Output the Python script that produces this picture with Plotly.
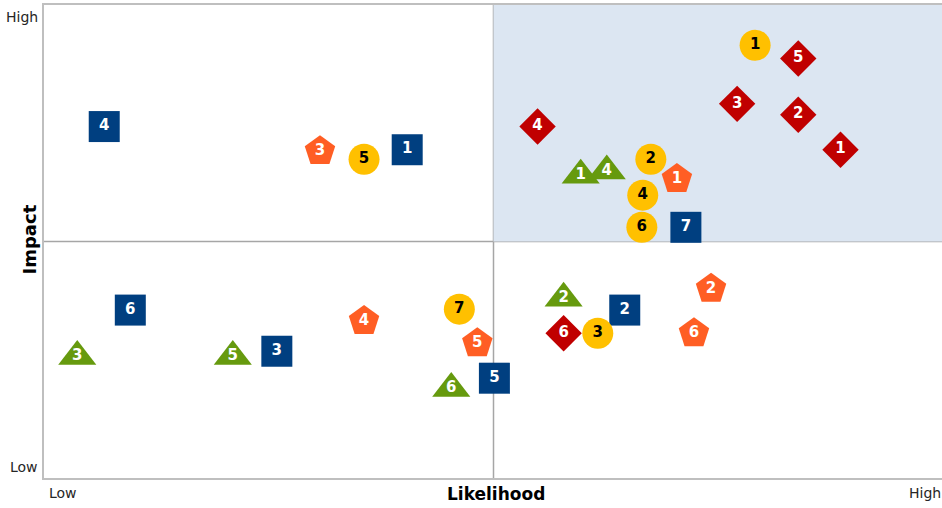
import plotly.graph_objects as go

# --- data (likelihood x, impact y, on a 0-10 scale) ---
square_labels = ["1", "2", "3", "4", "5", "6", "7"]
square_x = [4.04, 6.46, 2.59, 0.67, 5.01, 0.96, 7.14]
square_y = [6.94, 3.55, 2.68, 7.43, 2.11, 3.55, 5.30]

circle_labels = ["1", "2", "3", "4", "5", "6", "7"]
circle_x = [7.91, 6.75, 6.16, 6.66, 3.56, 6.65, 4.62]
circle_y = [9.15, 6.74, 3.06, 5.98, 6.74, 5.30, 3.57]

diamond_labels = ["1", "2", "3", "4", "5", "6"]
diamond_x = [8.86, 8.39, 7.71, 5.49, 8.39, 5.78]
diamond_y = [6.94, 7.68, 7.91, 7.43, 8.87, 3.06]

pentagon_labels = ["1", "2", "3", "4", "5", "6"]
pentagon_x = [7.04, 7.42, 3.07, 3.56, 4.82, 7.23]
pentagon_y = [6.32, 4.00, 6.91, 3.32, 2.85, 3.06]

triangle_labels = ["1", "2", "3", "4", "5", "6"]
triangle_x = [5.97, 5.78, 0.37, 6.26, 2.10, 4.53]
triangle_y = [6.40, 3.80, 2.57, 6.49, 2.57, 1.89]

x_tick_labels = ["Low", "High"]
y_tick_labels = ["Low", "High"]

FONT = "DejaVu Sans"

def series(x, y, labels, symbol, color, size, text_color):
    return go.Scatter(
        x=x, y=y, text=labels, mode="markers+text",
        marker=dict(symbol=symbol, color=color, size=size, line=dict(width=0)),
        textposition="middle center",
        textfont=dict(family=FONT, size=15, color=text_color, weight="bold"),
        hoverinfo="skip", showlegend=False, cliponaxis=False,
    )

fig = go.Figure()
fig.add_trace(series(triangle_x, triangle_y, triangle_labels, "triangle-up", "#669A0E", 33, "white"))
fig.add_trace(series(pentagon_x, pentagon_y, pentagon_labels, "pentagon", "#FF5E24", 32, "white"))
fig.add_trace(series(diamond_x, diamond_y, diamond_labels, "diamond", "#C00000", 28, "white"))
fig.add_trace(series(square_x, square_y, square_labels, "square", "#003F80", 31, "white"))
fig.add_trace(series(circle_x, circle_y, circle_labels, "circle", "#FFC000", 31, "black"))

fig.update_layout(
    width=946, height=508,
    margin=dict(l=44, r=1, t=5, b=30),
    paper_bgcolor="white", plot_bgcolor="white",
    xaxis=dict(range=[0, 10], showgrid=False, zeroline=False, showticklabels=False,
               showline=True, mirror=True, linecolor="#BFBFBF", linewidth=1.5, fixedrange=True),
    yaxis=dict(range=[0, 10], showgrid=False, zeroline=False, showticklabels=False,
               showline=True, mirror=True, linecolor="#BFBFBF", linewidth=1.5, fixedrange=True),
    shapes=[
        dict(type="rect", xref="x", yref="y", x0=5, x1=10, y0=5, y1=10,
             fillcolor="#DCE6F2", line=dict(width=0), layer="below"),
        dict(type="line", xref="x", yref="paper", x0=5, x1=5, y0=0, y1=1,
             line=dict(color="#A6A6A6", width=1.5), layer="below"),
        dict(type="line", xref="paper", yref="y", x0=0, x1=1, y0=5, y1=5,
             line=dict(color="#A6A6A6", width=1.5), layer="below"),
    ],
    annotations=[
        dict(text=x_tick_labels[0], x=0, y=0, xref="x", yref="paper", xanchor="left", yanchor="top",
             xshift=3, yshift=-5, showarrow=False, font=dict(family=FONT, size=14, color="#262626")),
        dict(text=x_tick_labels[1], x=0, y=0, xref="paper", yref="paper", xanchor="right", yanchor="top",
             xshift=899, yshift=-5, showarrow=False, font=dict(family=FONT, size=14, color="#262626")),
        dict(text="Likelihood", x=5, y=0, xref="x", yref="paper", xanchor="center", yanchor="top",
             xshift=2, yshift=-4, showarrow=False, font=dict(family=FONT, size=17, color="black", weight="bold")),
        dict(text=y_tick_labels[1], x=0, y=10, xref="paper", yref="y", xanchor="right", yanchor="middle",
             xshift=-4, yshift=-12, showarrow=False, font=dict(family=FONT, size=14, color="#262626")),
        dict(text=y_tick_labels[0], x=0, y=0, xref="paper", yref="y", xanchor="right", yanchor="middle",
             xshift=-4, yshift=11, showarrow=False, font=dict(family=FONT, size=14, color="#262626")),
        dict(text="Impact", x=0, y=5, xref="paper", yref="y", xanchor="center", yanchor="middle",
             xshift=-15, yshift=2, textangle=-90, showarrow=False,
             font=dict(family=FONT, size=18, color="black", weight="bold")),
    ],
)

fig.write_html(
    "out.html",
    config={"displayModeBar": False},
    post_script="document.body.style.margin='0';document.body.style.overflow='hidden';",
)
